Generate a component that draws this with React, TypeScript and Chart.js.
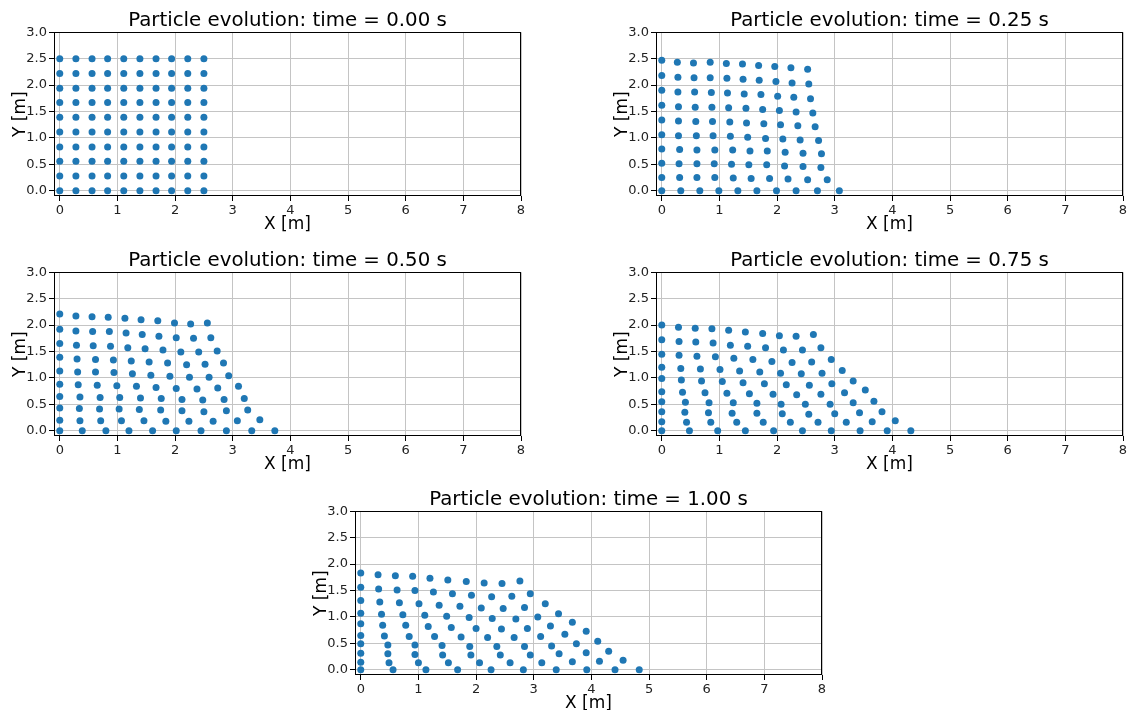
import React, { useEffect, useRef } from 'react';
import { Chart, registerables } from 'chart.js';

Chart.register(...registerables);

const FONT = "'DejaVu Sans', sans-serif";
const DOT_COLOR = '#1f77b4';

const TITLES = [
  'Particle evolution: time = 0.00 s',
  'Particle evolution: time = 0.25 s',
  'Particle evolution: time = 0.50 s',
  'Particle evolution: time = 0.75 s',
  'Particle evolution: time = 1.00 s',
];
const X_LABEL = 'X [m]';
const Y_LABEL = 'Y [m]';
const X_TICKS = [0, 1, 2, 3, 4, 5, 6, 7, 8];
const Y_TICKS = [0, 0.5, 1.0, 1.5, 2.0, 2.5, 3.0];

// t = 0.00 s : initial regular block (column x positions, row y positions)
const GRID0_X = [0, 0.28, 0.56, 0.83, 1.11, 1.39, 1.67, 1.94, 2.22, 2.5];
const GRID0_Y = [2.5, 2.22, 1.94, 1.67, 1.39, 1.11, 0.83, 0.56, 0.28, 0];

// t = 0.25 s (rows from top to bottom)
const X_025 = [
  [0, 0.27, 0.55, 0.84, 1.12, 1.40, 1.68, 1.96, 2.24, 2.53],
  [0, 0.28, 0.56, 0.84, 1.13, 1.41, 1.69, 1.98, 2.26, 2.55],
  [0, 0.28, 0.57, 0.86, 1.14, 1.43, 1.72, 2.01, 2.29, 2.58],
  [0, 0.29, 0.58, 0.87, 1.16, 1.46, 1.75, 2.04, 2.33, 2.62],
  [0, 0.29, 0.59, 0.88, 1.18, 1.47, 1.77, 2.06, 2.36, 2.66],
  [0, 0.29, 0.60, 0.89, 1.19, 1.49, 1.80, 2.10, 2.40, 2.72],
  [0, 0.31, 0.61, 0.92, 1.23, 1.53, 1.83, 2.14, 2.45, 2.77],
  [0, 0.30, 0.61, 0.91, 1.21, 1.51, 1.82, 2.13, 2.45, 2.76],
  [0, 0.31, 0.61, 0.92, 1.24, 1.55, 1.87, 2.19, 2.53, 2.87],
  [0, 0.33, 0.66, 0.99, 1.32, 1.65, 1.99, 2.33, 2.70, 3.08],
];
const Y_025 = [
  [2.47, 2.43, 2.42, 2.43, 2.41, 2.40, 2.37, 2.35, 2.33, 2.30],
  [2.18, 2.15, 2.14, 2.14, 2.13, 2.11, 2.09, 2.07, 2.04, 2.02],
  [1.90, 1.87, 1.87, 1.86, 1.85, 1.83, 1.82, 1.79, 1.77, 1.74],
  [1.62, 1.59, 1.58, 1.58, 1.57, 1.56, 1.54, 1.52, 1.49, 1.47],
  [1.34, 1.32, 1.31, 1.31, 1.30, 1.28, 1.27, 1.25, 1.23, 1.21],
  [1.06, 1.04, 1.04, 1.04, 1.03, 1.01, 0.99, 0.98, 0.96, 0.95],
  [0.79, 0.78, 0.77, 0.77, 0.77, 0.75, 0.75, 0.73, 0.71, 0.70],
  [0.52, 0.51, 0.51, 0.51, 0.50, 0.49, 0.49, 0.47, 0.46, 0.44],
  [0.25, 0.25, 0.25, 0.25, 0.24, 0.23, 0.23, 0.22, 0.21, 0.21],
  [0, 0, 0, 0, 0, 0, 0, 0, 0, 0],
];

// t = 0.50 s
const X_050 = [
  [0, 0.28, 0.56, 0.84, 1.13, 1.41, 1.70, 1.99, 2.27, 2.56],
  [0, 0.28, 0.57, 0.86, 1.15, 1.43, 1.72, 2.02, 2.32, 2.62],
  [0, 0.29, 0.58, 0.88, 1.18, 1.48, 1.79, 2.10, 2.41, 2.73],
  [0, 0.30, 0.62, 0.93, 1.24, 1.55, 1.87, 2.20, 2.52, 2.84],
  [0, 0.31, 0.62, 0.94, 1.26, 1.58, 1.91, 2.25, 2.59, 2.93],
  [0, 0.32, 0.65, 0.99, 1.33, 1.67, 2.02, 2.38, 2.74, 3.10],
  [0, 0.35, 0.70, 1.04, 1.40, 1.76, 2.12, 2.48, 2.85, 3.20],
  [0, 0.34, 0.69, 1.03, 1.38, 1.75, 2.12, 2.50, 2.89, 3.26],
  [0, 0.35, 0.71, 1.07, 1.46, 1.84, 2.24, 2.66, 3.08, 3.47],
  [0, 0.39, 0.80, 1.20, 1.61, 2.02, 2.45, 2.89, 3.33, 3.73],
];
const Y_050 = [
  [2.21, 2.17, 2.16, 2.15, 2.13, 2.10, 2.08, 2.04, 2.02, 2.04],
  [1.92, 1.89, 1.88, 1.88, 1.85, 1.82, 1.79, 1.76, 1.75, 1.76],
  [1.65, 1.62, 1.61, 1.60, 1.57, 1.55, 1.53, 1.49, 1.49, 1.51],
  [1.39, 1.36, 1.35, 1.34, 1.32, 1.30, 1.28, 1.25, 1.26, 1.28],
  [1.13, 1.11, 1.11, 1.10, 1.08, 1.05, 1.03, 1.01, 1.01, 1.04],
  [0.88, 0.87, 0.86, 0.85, 0.84, 0.82, 0.80, 0.79, 0.81, 0.84],
  [0.65, 0.64, 0.63, 0.63, 0.62, 0.61, 0.59, 0.58, 0.59, 0.61],
  [0.43, 0.42, 0.41, 0.41, 0.40, 0.39, 0.38, 0.36, 0.38, 0.39],
  [0.20, 0.19, 0.19, 0.19, 0.19, 0.18, 0.18, 0.18, 0.19, 0.21],
  [0, 0, 0, 0, 0, 0, 0, 0, 0, 0],
];

// t = 0.75 s
const X_075 = [
  [0, 0.29, 0.58, 0.87, 1.16, 1.45, 1.75, 2.04, 2.33, 2.63],
  [0, 0.30, 0.59, 0.89, 1.19, 1.49, 1.80, 2.11, 2.44, 2.76],
  [0, 0.30, 0.61, 0.93, 1.25, 1.58, 1.91, 2.26, 2.60, 2.94],
  [0, 0.33, 0.67, 1.01, 1.35, 1.70, 2.06, 2.42, 2.78, 3.13],
  [0, 0.34, 0.69, 1.05, 1.41, 1.78, 2.16, 2.56, 2.95, 3.32],
  [0, 0.36, 0.75, 1.13, 1.52, 1.93, 2.34, 2.76, 3.17, 3.53],
  [0, 0.41, 0.82, 1.24, 1.65, 2.07, 2.49, 2.92, 3.32, 3.68],
  [0, 0.40, 0.81, 1.22, 1.65, 2.09, 2.55, 3.00, 3.43, 3.82],
  [0, 0.43, 0.85, 1.30, 1.76, 2.23, 2.71, 3.20, 3.65, 4.05],
  [0, 0.48, 0.97, 1.45, 1.94, 2.44, 2.94, 3.44, 3.91, 4.32],
];
const Y_075 = [
  [2.00, 1.96, 1.94, 1.93, 1.90, 1.87, 1.84, 1.80, 1.79, 1.82],
  [1.72, 1.69, 1.68, 1.66, 1.62, 1.60, 1.57, 1.53, 1.53, 1.57],
  [1.45, 1.43, 1.41, 1.40, 1.37, 1.35, 1.31, 1.29, 1.30, 1.35],
  [1.20, 1.18, 1.17, 1.16, 1.13, 1.11, 1.09, 1.08, 1.09, 1.14],
  [0.99, 0.96, 0.94, 0.93, 0.91, 0.89, 0.87, 0.86, 0.89, 0.94],
  [0.74, 0.73, 0.72, 0.71, 0.70, 0.69, 0.68, 0.69, 0.72, 0.77],
  [0.55, 0.54, 0.53, 0.53, 0.52, 0.50, 0.50, 0.50, 0.53, 0.56],
  [0.36, 0.35, 0.34, 0.33, 0.33, 0.32, 0.31, 0.32, 0.34, 0.36],
  [0.17, 0.16, 0.16, 0.16, 0.16, 0.16, 0.16, 0.16, 0.17, 0.19],
  [0, 0, 0, 0, 0, 0, 0, 0, 0, 0],
];

// t = 1.00 s
const X_100 = [
  [0, 0.30, 0.60, 0.90, 1.20, 1.51, 1.83, 2.14, 2.45, 2.76],
  [0, 0.31, 0.63, 0.94, 1.26, 1.59, 1.92, 2.27, 2.62, 2.94],
  [0, 0.33, 0.67, 1.01, 1.36, 1.72, 2.09, 2.47, 2.84, 3.20],
  [0, 0.36, 0.73, 1.11, 1.49, 1.88, 2.28, 2.69, 3.07, 3.43],
  [0, 0.38, 0.78, 1.17, 1.57, 2.00, 2.44, 2.89, 3.29, 3.67],
  [0, 0.41, 0.84, 1.28, 1.74, 2.20, 2.66, 3.12, 3.54, 3.91],
  [0, 0.47, 0.94, 1.41, 1.89, 2.36, 2.84, 3.31, 3.74, 4.11],
  [0, 0.47, 0.94, 1.42, 1.91, 2.42, 2.94, 3.44, 3.91, 4.30],
  [0, 0.49, 1.00, 1.52, 2.06, 2.59, 3.14, 3.67, 4.14, 4.55],
  [0, 0.56, 1.13, 1.68, 2.26, 2.82, 3.39, 3.92, 4.41, 4.83],
];
const Y_100 = [
  [1.83, 1.80, 1.78, 1.77, 1.73, 1.70, 1.67, 1.64, 1.63, 1.68],
  [1.56, 1.53, 1.51, 1.50, 1.47, 1.44, 1.41, 1.38, 1.39, 1.44],
  [1.31, 1.28, 1.27, 1.25, 1.22, 1.20, 1.17, 1.16, 1.18, 1.25],
  [1.07, 1.05, 1.04, 1.03, 1.01, 0.99, 0.97, 0.96, 1.00, 1.06],
  [0.87, 0.84, 0.84, 0.82, 0.80, 0.78, 0.77, 0.78, 0.83, 0.90],
  [0.65, 0.64, 0.63, 0.63, 0.62, 0.61, 0.61, 0.63, 0.67, 0.73],
  [0.49, 0.47, 0.47, 0.46, 0.44, 0.44, 0.44, 0.45, 0.49, 0.54],
  [0.31, 0.30, 0.29, 0.28, 0.28, 0.28, 0.28, 0.30, 0.32, 0.35],
  [0.14, 0.13, 0.13, 0.13, 0.13, 0.13, 0.13, 0.15, 0.16, 0.18],
  [0, 0, 0, 0, 0, 0, 0, 0, 0, 0],
];

type Pt = { x: number; y: number };

const fromRows = (xs: number[][], ys: number[][]): Pt[] =>
  xs.flatMap((row, i) => row.map((x, j) => ({ x, y: ys[i][j] })));

const grid0: Pt[] = GRID0_Y.flatMap((y) => GRID0_X.map((x) => ({ x, y })));

const CANVAS_W = 540;
const CANVAS_H = 235;

const PANELS = [
  { title: TITLES[0], points: grid0, left: 0, top: 0 },
  { title: TITLES[1], points: fromRows(X_025, Y_025), left: 602, top: 0 },
  { title: TITLES[2], points: fromRows(X_050, Y_050), left: 0, top: 240 },
  { title: TITLES[3], points: fromRows(X_075, Y_075), left: 602, top: 240 },
  { title: TITLES[4], points: fromRows(X_100, Y_100), left: 301, top: 479 },
];

const spinePlugin = {
  id: 'spines',
  afterDraw(chart: any) {
    const { ctx, chartArea: a } = chart;
    ctx.save();
    ctx.strokeStyle = '#000';
    ctx.lineWidth = 1;
    ctx.strokeRect(
      Math.round(a.left) + 0.5,
      Math.round(a.top) + 0.5,
      Math.round(a.right - a.left) - 1,
      Math.round(a.bottom - a.top) - 1
    );
    ctx.restore();
  },
};

function Panel({ title, points, left, top }: { title: string; points: Pt[]; left: number; top: number }) {
  const ref = useRef<HTMLCanvasElement | null>(null);
  useEffect(() => {
    if (!ref.current) return;
    const chart = new Chart(ref.current, {
      type: 'scatter',
      data: {
        datasets: [
          {
            data: points,
            backgroundColor: DOT_COLOR,
            borderWidth: 0,
            pointRadius: 3.5,
            pointHoverRadius: 3.5,
          },
        ],
      },
      options: {
        animation: false,
        responsive: false,
        devicePixelRatio: 1,
        events: [],
        layout: { padding: { left: 0, right: 19, top: 0, bottom: 0 } },
        plugins: {
          legend: { display: false },
          tooltip: { enabled: false },
          title: {
            display: true,
            text: title,
            fullSize: false,
            color: '#000',
            font: { family: FONT, size: 19.8, weight: 'normal' },
            padding: { top: 8.5, bottom: 0 },
          },
        },
        scales: {
          x: {
            type: 'linear',
            min: -0.1,
            max: 8,
            afterBuildTicks: (s: any) => {
              s.ticks = X_TICKS.map((v) => ({ value: v }));
            },
            afterFit: (s: any) => {
              s.height = 39;
            },
            grid: { color: '#c4c4c4', lineWidth: 1, tickColor: '#000', tickLength: 5, drawTicks: true },
            border: { display: false },
            ticks: {
              color: '#222',
              font: { family: FONT, size: 13 },
              padding: 2,
              maxRotation: 0,
              autoSkip: false,
              callback: (v: any) => String(v),
            },
            title: {
              display: true,
              text: X_LABEL,
              color: '#000',
              font: { family: FONT, size: 17 },
              padding: { top: 0, bottom: 0 },
            },
          },
          y: {
            type: 'linear',
            min: -0.1,
            max: 3,
            afterBuildTicks: (s: any) => {
              s.ticks = Y_TICKS.map((v) => ({ value: v }));
            },
            afterFit: (s: any) => {
              s.width = 54;
            },
            grid: { color: '#c4c4c4', lineWidth: 1, tickColor: '#000', tickLength: 5, drawTicks: true },
            border: { display: false },
            ticks: {
              color: '#222',
              font: { family: FONT, size: 13 },
              padding: 2,
              autoSkip: false,
              callback: (v: any) => Number(v).toFixed(1),
            },
            title: {
              display: true,
              text: Y_LABEL,
              color: '#000',
              font: { family: FONT, size: 17 },
              padding: { top: 10, bottom: 0 },
            },
          },
        },
      },
      plugins: [spinePlugin],
    } as any);
    return () => chart.destroy();
  }, [title, points]);

  return (
    <canvas
      ref={ref}
      width={CANVAS_W}
      height={CANVAS_H}
      style={{ position: 'absolute', left, top, width: CANVAS_W, height: CANVAS_H, display: 'block' }}
    />
  );
}

export default function App() {
  return (
    <div
      style={{
        position: 'absolute',
        left: 0,
        top: 0,
        width: 1129,
        height: 710,
        background: '#fff',
        overflow: 'hidden',
      }}
    >
      {PANELS.map((p, i) => (
        <Panel key={i} title={p.title} points={p.points} left={p.left} top={p.top} />
      ))}
    </div>
  );
}
